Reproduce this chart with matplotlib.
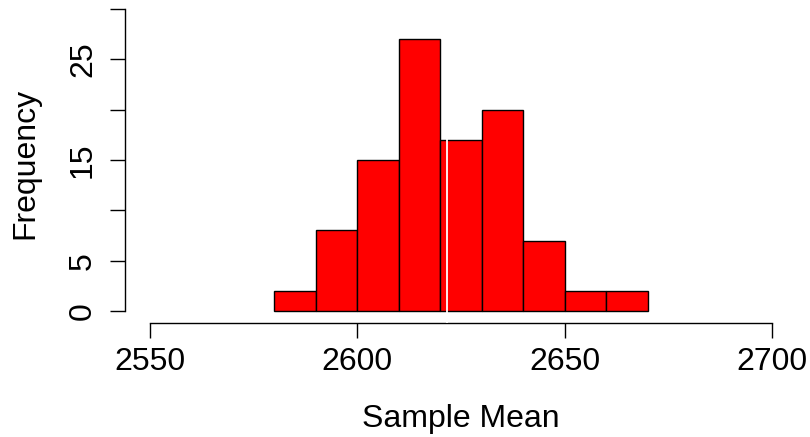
import numpy as np
import matplotlib
matplotlib.use("Agg")
import matplotlib.pyplot as plt

# histogram of sample means (bin edges and counts)
bin_edges = [2580, 2590, 2600, 2610, 2620, 2630, 2640, 2650, 2660, 2670]
counts = [2, 8, 15, 27, 17, 20, 7, 2, 2]
mean_line = 2621.5

x_ticks = [2550, 2600, 2650, 2700]
y_ticks = [0, 5, 10, 15, 20, 25, 30]
y_tick_labels = ["0", "5", "", "15", "", "25", ""]

plt.rcParams["font.family"] = ["Liberation Sans", "DejaVu Sans"]

W, H = 810, 437
fig = plt.figure(figsize=(W / 100, H / 100), dpi=100)
# axes box in pixels: left = y spine, bottom = x spine
left, right, top, bottom = 125, 797, 3, 323
ax = fig.add_axes([left / W, 1 - bottom / H, (right - left) / W, (bottom - top) / H])

edges = np.array(bin_edges)
ax.bar(edges[:-1], counts, width=np.diff(edges), align="edge",
       color="#ff0000", edgecolor="black", linewidth=1.0, zorder=2)
ax.axvline(mean_line, color="white", linewidth=1.3, zorder=4)

ax.set_xlim(2543.97, 2706)
ax.set_ylim(-1.19, 30.6)

for s in ["top", "right"]:
    ax.spines[s].set_visible(False)
ax.spines["left"].set_bounds(0, 30)
ax.spines["bottom"].set_bounds(2550, 2700)
for s in ["left", "bottom"]:
    ax.spines[s].set_linewidth(1.0)

ax.set_xticks(x_ticks)
ax.set_xticklabels([str(v) for v in x_ticks])
ax.set_yticks(y_ticks)
ax.set_yticklabels(y_tick_labels, rotation=90, va="center")
ax.tick_params(axis="both", direction="out", length=10.5, width=1.0,
               labelsize=23, pad=7)
ax.tick_params(axis="y", pad=9)

ax.set_xlabel("Sample Mean", fontsize=23, labelpad=19)
ax.set_ylabel("Frequency", fontsize=23, labelpad=20)

fig.savefig("out.png", dpi=100, facecolor="white")
